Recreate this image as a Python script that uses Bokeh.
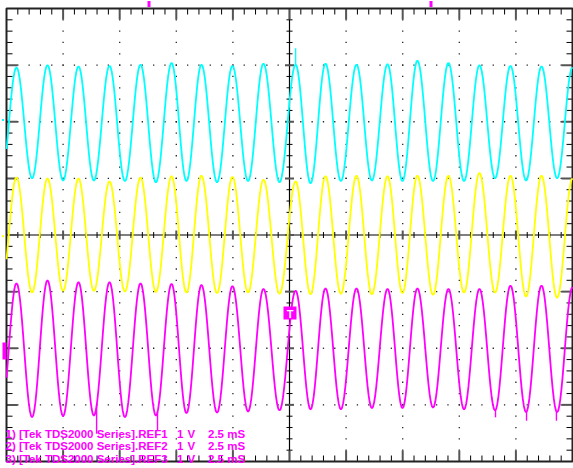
import numpy as np
from bokeh.plotting import figure
from bokeh.models import Range1d
from bokeh.embed import file_html
from bokeh.resources import INLINE
from bokeh.core.properties import value

MS_PER_DIV = 2.5          # horizontal scale
V_PER_DIV = 1.0           # vertical scale (all refs)
ch_names = ["REF1", "REF2", "REF3"]
ch_offsets = [2.0, 0.0, -2.0]          # ground position, divisions
ch_colors = ["#00FFFF", "#FFFF00", "#FF00FF"]

# times (ms) of successive extrema: trough, peak, trough, ...
ext_times = [-12.74, -12.06, -11.37, -10.69, -10.00, -9.32, -8.64, -7.95,
             -7.27, -6.58, -5.90, -5.21, -4.55, -3.89, -3.20, -2.52,
             -1.83, -1.15, -0.44, 0.27, 0.93, 1.59, 2.27, 2.96,
             3.64, 4.33, 4.99, 5.65, 6.34, 7.02, 7.71, 8.39,
             9.08, 9.76, 10.45, 11.13, 11.82, 12.50]

# voltages (V, relative to each ref's ground) at those extrema
ref1_values = [-1.05, 0.96, -1.00, 1.00, -1.04, 0.98, -1.04, 0.99,
               -1.05, 1.01, -1.07, 1.04, -1.05, 1.01, -1.07, 0.99,
               -1.05, 1.03, -1.07, 1.01, -1.09, 1.03, -1.05, 1.01,
               -1.04, 1.02, -1.05, 1.08, -1.05, 1.04, -1.05, 1.00,
               -1.00, 0.99, -1.04, 0.98, -1.00, 0.96]
ref2_values = [-1.00, 1.02, -1.02, 1.00, -0.99, 1.00, -0.99, 0.95,
               -1.00, 1.02, -1.01, 1.04, -1.02, 1.05, -1.03, 1.03,
               -1.02, 0.98, -1.04, 0.95, -1.05, 1.04, -1.04, 1.05,
               -1.05, 1.04, -1.03, 1.05, -1.06, 1.05, -1.02, 1.10,
               -1.02, 1.05, -1.09, 1.05, -1.11, 1.00]
ref3_values = [-1.18, 1.15, -1.22, 1.20, -1.20, 1.17, -1.19, 1.17,
               -1.22, 1.15, -1.19, 1.14, -1.15, 1.12, -1.14, 1.10,
               -1.12, 1.05, -1.10, 1.02, -1.08, 1.06, -1.08, 1.06,
               -1.06, 1.05, -1.06, 1.06, -1.05, 1.05, -1.08, 1.05,
               -1.10, 1.11, -1.13, 1.11, -1.13, 1.08]
ch_values = [ref1_values, ref2_values, ref3_values]

# short glitches: channel index, time (ms), tip voltage (V)
glitch_ch = [0, 2, 2, 2, 2, 2]
glitch_t = [0.27, -8.52, -5.83, 9.10, 10.47, 11.79]
glitch_v = [1.30, -1.51, -1.45, -1.22, -1.28, -1.28]

# legend: one row per reference, split in its printed columns
legend_src = ["1) [Tek TDS2000 Series].REF1",
              "2) [Tek TDS2000 Series].REF2",
              "3) [Tek TDS2000 Series].REF3"]
legend_volts = ["1", "1", "1"]
legend_unit = ["V", "V", "V"]
legend_time = ["2.5 mS", "2.5 mS", "2.5 mS"]

# ---------------- figure / screen geometry ----------------
W, H = 573, 468
GL, GR, GT, GB = 6, 572, 8, 461           # graticule box in pixels
dpx = (GR - GL) / 10.0
dpy = (GB - GT) / 8.0
x0 = -5 * MS_PER_DIV - GL / dpx * MS_PER_DIV
x1 = 5 * MS_PER_DIV + (W - GR) / dpx * MS_PER_DIV
y1 = 4 + GT / dpy
y0 = -4 - (H - GB) / dpy
PX = (x1 - x0) / W      # ms per pixel
PY = (y1 - y0) / H      # div per pixel


def sx(px):
    return x0 + px * PX


def sy(py):
    return y1 - py * PY


p = figure(width=W, height=H, output_backend="svg", toolbar_location=None,
           x_range=Range1d(x0, x1), y_range=Range1d(y0, y1),
           x_axis_location=None, y_axis_location=None,
           min_border=0, min_border_left=0, min_border_right=0,
           min_border_top=0, min_border_bottom=0)
p.outline_line_color = None
p.grid.visible = False
p.background_fill_color = "white"
p.border_fill_color = "white"

XL, XR = -5 * MS_PER_DIV, 5 * MS_PER_DIV

# dotted graticule
dx, dy = [], []
for k in [-4, -3, -2, -1, 1, 2, 3, 4]:
    for j in range(1, 40):
        dx.append(k * MS_PER_DIV)
        dy.append(-4 + j * 0.2)
for k in [-3, -2, -1, 1, 2, 3]:
    for j in range(1, 50):
        dx.append(-5 * MS_PER_DIV + j * 0.2 * MS_PER_DIV)
        dy.append(k)
p.rect(x=dx, y=dy, width=1.3, height=1.3, width_units="screen",
       height_units="screen", fill_color="#222222", line_color=None)

# centre cross
p.segment(x0=[XL, 0], y0=[0, -4], x1=[XR, 0], y1=[0, 4],
          line_color="black", line_width=1.2)

# ticks
mx0, my0, mx1, my1 = [], [], [], []     # minor
Mx0, My0, Mx1, My1 = [], [], [], []     # major
for j in range(1, 50):
    x = XL + j * 0.2 * MS_PER_DIV
    major = (j % 5 == 0)
    L = 11 if major else 6
    c = 4.5 if major else 3
    tgt = (Mx0, My0, Mx1, My1) if major else (mx0, my0, mx1, my1)
    for a, b in [((x, 4), (x, 4 - L * PY)), ((x, -4), (x, -4 + L * PY)),
                 ((x, -c * PY), (x, c * PY))]:
        tgt[0].append(a[0]); tgt[1].append(a[1])
        tgt[2].append(b[0]); tgt[3].append(b[1])
for j in range(1, 40):
    y = -4 + j * 0.2
    major = (j % 5 == 0)
    L = 11 if major else 6
    c = 4.5 if major else 3
    tgt = (Mx0, My0, Mx1, My1) if major else (mx0, my0, mx1, my1)
    for a, b in [((XL, y), (XL + L * PX, y)), ((XR, y), (XR - L * PX, y)),
                 ((-c * PX, y), (c * PX, y))]:
        tgt[0].append(a[0]); tgt[1].append(a[1])
        tgt[2].append(b[0]); tgt[3].append(b[1])
p.segment(x0=mx0, y0=my0, x1=mx1, y1=my1, line_color="black", line_width=1)
p.segment(x0=Mx0, y0=My0, x1=Mx1, y1=My1, line_color="#555555", line_width=2)

# border
p.quad(left=[XL], right=[XR], bottom=[-4], top=[4], fill_color=None,
       line_color="#222222", line_width=2)

# legend text
rows_y = [sy(433), sy(445.8), sy(458.5)]
col_px = [5, 176.5, 187, 207.5]
for col, texts in zip(col_px, [legend_src, legend_volts, legend_unit, legend_time]):
    p.text(x=[sx(col)] * 3, y=rows_y, text=texts,
           text_font=value("Liberation Sans"), text_font_style="bold",
           text_font_size="11.5px", text_color="#FF00FF",
           text_baseline="alphabetic", text_align="left")


def curve(times, vals):
    ts, vs = [], []
    n = len(times)
    for i in range(n - 1):
        s = np.linspace(0, 1, 15)
        if i < n - 2:
            s = s[:-1]
        t = times[i] + (times[i + 1] - times[i]) * s
        v = vals[i] + (vals[i + 1] - vals[i]) * (1 - np.cos(np.pi * s)) / 2
        ts.extend(t); vs.extend(v)
    ts = np.array(ts); vs = np.array(vs)
    m = (ts >= XL) & (ts <= XR)
    return ts[m], vs[m]


for ci in range(3):
    t, v = curve(ext_times, ch_values[ci])
    p.line(t, v / V_PER_DIV + ch_offsets[ci], line_color=ch_colors[ci],
           line_width=1.8)
    gx, gy0, gy1 = [], [], []
    for g in range(len(glitch_ch)):
        if glitch_ch[g] != ci:
            continue
        vb = np.interp(glitch_t[g], t, v)
        gx.append(glitch_t[g])
        gy0.append(vb / V_PER_DIV + ch_offsets[ci])
        gy1.append(glitch_v[g] / V_PER_DIV + ch_offsets[ci])
    if gx:
        p.segment(x0=gx, y0=gy0, x1=gx, y1=gy1, line_color=ch_colors[ci],
                  line_width=1.4)

# ground markers on left edge
p.rect(x=[sx(2.5), sx(2.5)], y=[ch_offsets[0] + 0.03, ch_offsets[1] - 0.02],
       width=2, height=2, width_units="screen", height_units="screen",
       fill_color=[ch_colors[0], ch_colors[1]], line_color=None)
p.rect(x=[sx(4)], y=[ch_offsets[2] - 0.05], width=4, height=17,
       width_units="screen", height_units="screen",
       fill_color="#FF00FF", line_color=None)
# top markers
p.rect(x=[sx(148.5), sx(430.5)], y=[sy(3.5), sy(3.5)], width=3, height=6,
       width_units="screen", height_units="screen",
       fill_color="#FF00FF", line_color=None)
# trigger marker
p.rect(x=[sx(289.5)], y=[sy(312.5)], width=13, height=13,
       width_units="screen", height_units="screen",
       fill_color="#FF00FF", line_color=None)
p.text(x=[sx(289.5)], y=[sy(313)], text=["T"],
       text_font=value("Liberation Sans"), text_font_style="bold",
       text_font_size="11px", text_color="white",
       text_baseline="middle", text_align="center")

open("out.html", "w").write(file_html(p, INLINE))
